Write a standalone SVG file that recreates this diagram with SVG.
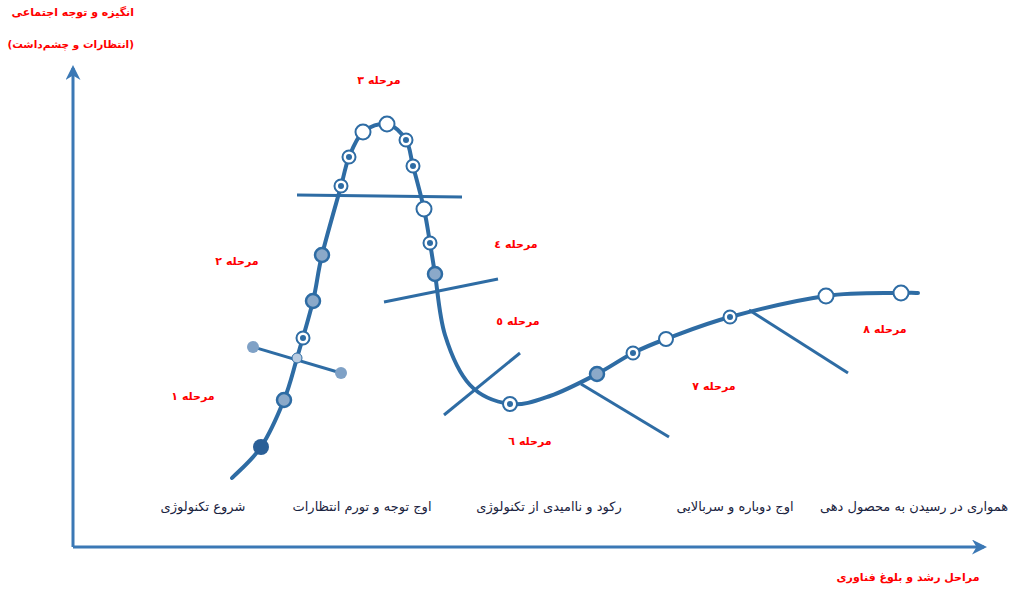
<svg xmlns="http://www.w3.org/2000/svg" width="1024" height="596" viewBox="0 0 1024 596">
<defs>
<style>
.ax{stroke:#3b78b5;stroke-width:3;fill:none}
.cv{stroke:#2e6ca4;stroke-width:4;fill:none;stroke-linecap:round}
.ln{stroke:#2e6ca4;stroke-width:3;fill:none}
.red{font-family:"DejaVu Sans",sans-serif;font-size:11px;font-weight:bold;fill:#ff0000}
.lab{font-family:"DejaVu Sans",sans-serif;font-size:13px;fill:#1a2340}
.ring{fill:#fff;stroke:#2e6ca4;stroke-width:2}
.gray{fill:#8ba9c9;stroke:#2e6ca4;stroke-width:2.5}
.ctr{fill:#2e6ca4}
</style>
<marker id="ah" viewBox="0 0 10 10" refX="8" refY="5" markerWidth="5" markerHeight="5" orient="auto" markerUnits="strokeWidth">
<path d="M0,0 L10,5 L0,10 L3,5 z" fill="#3b78b5"/>
</marker>
</defs>
<rect width="1024" height="596" fill="#fff"/>
<g id="axes">
<path class="ax" d="M73,547 L73,68" marker-end="url(#ah)"/>
<path class="ax" d="M73,547 L984,547" marker-end="url(#ah)"/>
</g>
<g id="connectors">
<path class="cv" d="M232,478 C236.8,472.8 252.3,460 261,447 C269.7,434 278,414.8 284,400 C290,385.2 292.2,374.5 297,358 C301.8,341.5 308.8,318.2 313,301 C317.2,283.8 317.3,274.2 322,255 C326.7,235.8 336.5,202.3 341,186 C345.5,169.7 345.3,166 349,157 C352.7,148 356.7,137.5 363,132 C369.3,126.5 379.8,122.7 387,124 C394.2,125.3 401.7,133 406,140 C410.3,147 410,154.5 413,166 C416,177.5 421.2,196.2 424,209 C426.8,221.8 428.2,232.2 430,243 C431.8,253.8 432.5,258.7 435,274 C437.5,289.3 439.2,316.5 445,335 C450.8,353.5 459.2,373.5 470,385 C480.8,396.5 496.7,402.2 510,404 C523.3,405.8 535.5,401 550,396 C564.5,391 583.2,381.2 597,374 C610.8,366.8 621.5,358.8 633,353 C644.5,347.2 649.8,345 666,339 C682.2,333 703.3,324.2 730,317 C756.7,309.8 797.5,300 826,296 C854.5,292 885.7,293.5 901,293 C916.3,292.5 915.2,293 918,293"/>
<line class="ln" x1="297" y1="195" x2="462" y2="197"/>
<line class="ln" x1="384" y1="302" x2="498" y2="279"/>
<line class="ln" x1="444" y1="415" x2="520" y2="353"/>
<line class="ln" x1="581" y1="384" x2="669" y2="437"/>
<line class="ln" x1="749" y1="310" x2="848" y2="373"/>
<line class="ln" x1="253" y1="347" x2="341" y2="373"/>
</g>
<g id="nodes">
<g id="n-cross"><circle cx="253" cy="347" r="6" fill="#7fa1c6"/><circle cx="341" cy="373" r="6" fill="#7fa1c6"/><circle cx="297" cy="358" r="5" fill="#b8cbe0" stroke="#2e6ca4" stroke-width="1"/></g>
<g id="n1"><circle cx="261" cy="447" r="8" fill="#2a5f97"/></g>
<g id="n2"><circle class="gray" cx="284" cy="400" r="7"/></g>
<g id="n3"><circle class="ring" cx="303" cy="338" r="6.5"/><circle class="ctr" cx="303" cy="338" r="3"/></g>
<g id="n4"><circle class="gray" cx="313" cy="301" r="7"/></g>
<g id="n5"><circle class="gray" cx="322" cy="255" r="7"/></g>
<g id="n6"><circle class="ring" cx="341" cy="186" r="6.5"/><circle class="ctr" cx="341" cy="186" r="3"/></g>
<g id="n7"><circle class="ring" cx="349" cy="157" r="6.5"/><circle class="ctr" cx="349" cy="157" r="3"/></g>
<g id="n8"><circle class="ring" cx="363" cy="132" r="7.5"/></g>
<g id="n9"><circle class="ring" cx="387" cy="124" r="7.5"/></g>
<g id="n10"><circle class="ring" cx="406" cy="140" r="6.5"/><circle class="ctr" cx="406" cy="140" r="3"/></g>
<g id="n11"><circle class="ring" cx="413" cy="166" r="6.5"/><circle class="ctr" cx="413" cy="166" r="3"/></g>
<g id="n12"><circle class="ring" cx="424" cy="209" r="7.5"/></g>
<g id="n13"><circle class="ring" cx="430" cy="243" r="6.5"/><circle class="ctr" cx="430" cy="243" r="3"/></g>
<g id="n14"><circle class="gray" cx="435" cy="274" r="7"/></g>
<g id="n15"><circle class="ring" cx="510" cy="404" r="7"/><circle class="ctr" cx="510" cy="404" r="3"/></g>
<g id="n16"><circle class="gray" cx="597" cy="374" r="7"/></g>
<g id="n17"><circle class="ring" cx="633" cy="353" r="6.5"/><circle class="ctr" cx="633" cy="353" r="3"/></g>
<g id="n18"><circle class="ring" cx="666" cy="339" r="7"/></g>
<g id="n19"><circle class="ring" cx="730" cy="317" r="6.5"/><circle class="ctr" cx="730" cy="317" r="3"/></g>
<g id="n20"><circle class="ring" cx="826" cy="296" r="7.5"/></g>
<g id="n21"><circle class="ring" cx="901" cy="293" r="7.5"/></g>
</g>
<g id="labels">
<text class="red" x="134" y="16" direction="rtl" style="text-anchor:start">انگیزه و توجه اجتماعی</text>
<text class="red" x="134" y="48" direction="rtl" style="text-anchor:start;font-size:10.5px">(انتظارات و چشم‌داشت)</text>
<text class="red" x="379" y="84" text-anchor="middle">مرحله ٣</text>
<text class="red" x="237" y="265" text-anchor="middle">مرحله ٢</text>
<text class="red" x="193" y="400" text-anchor="middle">مرحله ١</text>
<text class="red" x="516" y="248" text-anchor="middle">مرحله ٤</text>
<text class="red" x="518" y="325" text-anchor="middle">مرحله ٥</text>
<text class="red" x="530" y="445" text-anchor="middle">مرحله ٦</text>
<text class="red" x="714" y="390" text-anchor="middle">مرحله ٧</text>
<text class="red" x="885" y="333" text-anchor="middle">مرحله ٨</text>
<text class="lab" x="203" y="511" text-anchor="middle">شروع تکنولوژی</text>
<text class="lab" x="362" y="511" text-anchor="middle">اوج توجه و تورم انتظارات</text>
<text class="lab" x="549" y="511" text-anchor="middle">رکود و ناامیدی از تکنولوژی</text>
<text class="lab" x="735" y="511" text-anchor="middle">اوج دوباره و سربالایی</text>
<text class="lab" x="914" y="511" text-anchor="middle">همواری در رسیدن به محصول دهی</text>
<text class="red" x="908" y="581" text-anchor="middle">مراحل رشد و بلوغ فناوری</text>
</g>
</svg>
